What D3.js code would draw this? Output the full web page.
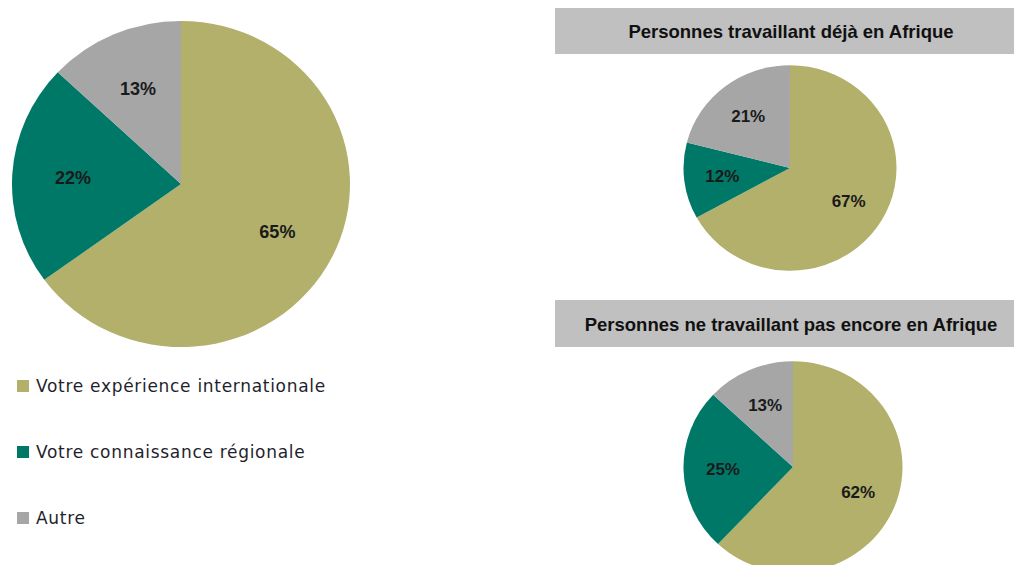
<!DOCTYPE html>
<html>
<head>
<meta charset="utf-8">
<script src="https://cdn.jsdelivr.net/npm/d3@7"></script>
<style>
  body { margin: 0; background: #fff; }
  svg { display: block; }
</style>
</head>
<body>
<div id="chart"></div>
<script>
// données
const categories = ["Votre expérience internationale", "Votre connaissance régionale", "Autre"];
const colors = ["#B2B06B", "#007868", "#A6A6A6"];
const totalValues = [65, 22, 13];
const dejaValues = [67, 12, 21];
const pasEncoreValues = [62, 25, 13];
const titles = ["Personnes travaillant déjà en Afrique", "Personnes ne travaillant pas encore en Afrique"];

const width = 1014, height = 565;

const svg = d3.select("#chart")
    .append("svg")
    .attr("width", width)
    .attr("height", height);

const color = d3.scaleOrdinal().domain(categories).range(colors);

const pie = d3.pie()
    .sort(null)
    .value(d => d.value);

// dessine un camembert (légèrement aplati comme l'original)
function drawPie(values, cx, cy, r, squash, fontSize) {
    const data = categories.map((c, i) => ({ name: c, value: values[i] }));
    const g = svg.append("g")
        .attr("transform", `translate(${cx},${cy}) scale(1,${squash})`);

    const arc = d3.arc().innerRadius(0).outerRadius(r);
    const labelArc = d3.arc().innerRadius(r * 0.64).outerRadius(r * 0.64);

    g.selectAll("path")
        .data(pie(data))
        .join("path")
        .attr("d", arc)
        .attr("fill", d => color(d.data.name));

    g.selectAll("text")
        .data(pie(data))
        .join("text")
        .attr("transform", d => {
            const [x, y] = labelArc.centroid(d);
            return `translate(${x},${y}) scale(1,${1 / squash})`;
        })
        .attr("text-anchor", "middle")
        .attr("dy", "0.35em")
        .style("font-family", "'Liberation Sans', Arial, sans-serif")
        .style("font-weight", "bold")
        .style("font-size", fontSize + "px")
        .style("fill", "#1a1a1a")
        .text(d => d.data.value + "%");
}

drawPie(totalValues, 181, 184, 169, 0.965, 18);
drawPie(dejaValues, 790, 168, 106.5, 0.965, 17);
drawPie(pasEncoreValues, 793, 467, 109.5, 0.965, 17);

// bandeaux de titre
const titleBoxes = [
    { y: 8, h: 46, ty: 32, tx: 791 },
    { y: 300, h: 47, ty: 325, tx: 791 }
];
titles.forEach((t, i) => {
    const b = titleBoxes[i];
    svg.append("rect")
        .attr("x", 555)
        .attr("y", b.y)
        .attr("width", width - 555)
        .attr("height", b.h)
        .attr("fill", "#C0C0C0");
    svg.append("text")
        .attr("x", b.tx)
        .attr("y", b.ty)
        .attr("dy", "0.35em")
        .attr("text-anchor", "middle")
        .style("font-family", "'Liberation Sans', Arial, sans-serif")
        .style("font-weight", "bold")
        .style("font-size", "18.5px")
        .style("fill", "#111")
        .text(t);
});

// légende
const legendY = d3.scalePoint().domain(categories).range([386, 518]);
const legend = svg.append("g");
const items = legend.selectAll("g")
    .data(categories)
    .join("g")
    .attr("transform", d => `translate(17,${legendY(d)})`);

items.append("rect")
    .attr("x", 0)
    .attr("y", -6)
    .attr("width", 12)
    .attr("height", 12)
    .attr("fill", d => color(d));

items.append("text")
    .attr("x", 19)
    .attr("dy", "0.35em")
    .style("font-family", "'DejaVu Sans', Verdana, sans-serif")
    .style("font-size", "17px")
    .style("letter-spacing", "0.7px")
    .style("fill", "#1f1f2e")
    .text(d => d);
</script>
</body>
</html>
